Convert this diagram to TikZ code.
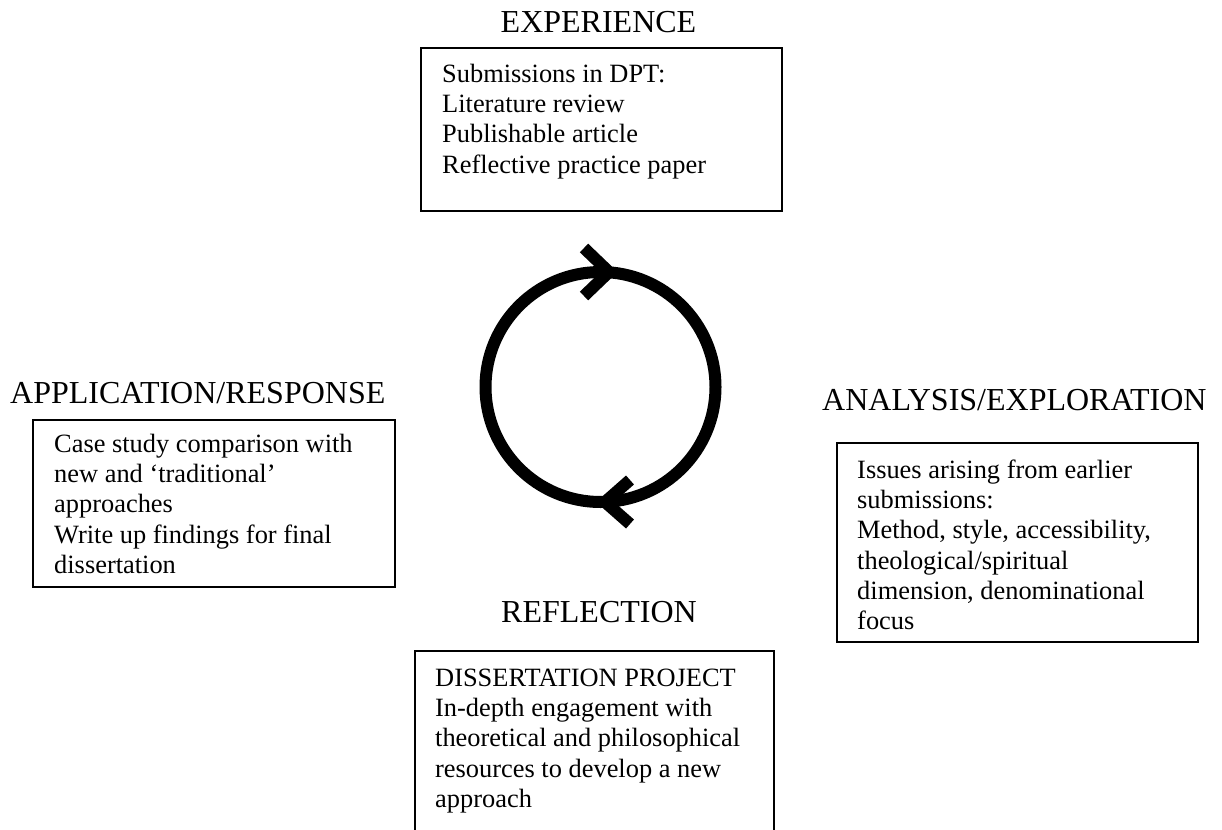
\documentclass[tikz,border=0pt]{standalone}
\usepackage{fontspec}
\setmainfont{Liberation Serif}
% invisible strut that fixes the top of the first line of a text block
\newcommand\leadstrut{\rule{0pt}{20pt}}
\begin{document}
\begin{tikzpicture}[x=1pt,y=-1pt,
  heading/.style={font=\fontsize{32}{36}\selectfont, inner sep=0pt},
  bodytext/.style={font=\fontsize{26.4}{30.3}\selectfont, align=left,
                   inner sep=0pt, anchor=north west},
  panel/.style={draw=black, line width=1.6pt, inner sep=0pt, outer sep=0pt,
                anchor=north west},
  cyclering/.style={draw=black, line width=12pt, circle, inner sep=0pt},
  chevron/.style={line width=12pt, line cap=butt, line join=miter}]
\useasboundingbox (0,0) rectangle (1222,829);

% headings
\node[heading, anchor=base] (hexp) at (598.5,33) {EXPERIENCE};
\node[heading, anchor=base west] (happ) at (10,403) {APPLICATION/RESPONSE};
\node[heading, anchor=base west] (hana) at (822,410) {ANALYSIS/EXPLORATION};
\node[heading, anchor=base] (href) at (599,622) {REFLECTION};

% framed panels
\node[panel, minimum width=361pt, minimum height=163pt] (expbox) at (421,48) {};
\node[panel, minimum width=362pt, minimum height=167pt] (appbox) at (33,420) {};
\node[panel, minimum width=361pt, minimum height=199pt] (anabox) at (837,443) {};
\node[panel, minimum width=359pt, minimum height=200pt] (refbox) at (415,651) {};

% panel contents
\node[bodytext] (exptext) at (442,62) {\leadstrut Submissions in DPT:\\
  Literature review\\Publishable article\\Reflective practice paper};
\node[bodytext] (apptext) at (54,432) {\leadstrut Case study comparison with\\
  new and ‘traditional’\\approaches\\Write up findings for final\\dissertation};
\node[bodytext] (anatext) at (857,458) {\leadstrut Issues arising from earlier\\
  submissions:\\Method, style, accessibility,\\theological/spiritual\\
  dimension, denominational\\focus};
\node[bodytext] (reftext) at (435,666) {\leadstrut DISSERTATION PROJECT\\
  In-depth engagement with\\theoretical and philosophical\\
  resources to develop a new\\approach};

% the cycle
\node[cyclering, minimum size=230pt] (cycle) at (600.5,387) {};
\coordinate (toptip) at (609,272);
\coordinate (bottip) at (605,502);
\draw[chevron] (584,248) -- (toptip) -- (584,296);
\draw[chevron] (630,480) -- (bottip) -- (630,524);
\end{tikzpicture}
\end{document}
